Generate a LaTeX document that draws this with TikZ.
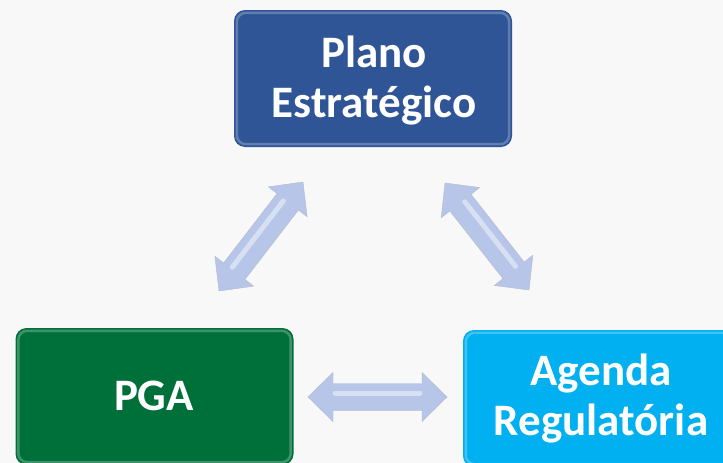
\documentclass[tikz,border=0pt]{standalone}
\usepackage{fontspec}
\setmainfont{Carlito}
\usetikzlibrary{calc}
\definecolor{bgc}{RGB}{248,248,248}
\definecolor{boxblue}{RGB}{47,85,151}
\definecolor{boxgreen}{RGB}{0,112,58}
\definecolor{boxcyan}{RGB}{0,176,240}
\definecolor{arrowc}{RGB}{183,197,232}
\tikzset{
  box/.style={rounded corners=11pt, minimum width=278pt, minimum height=137pt, inner sep=0pt},
  boxtext/.style={anchor=base, inner sep=0pt, align=center, text=white,
    font=\fontsize{45}{50}\selectfont\bfseries},
  bevel/.style={rounded corners=9pt, line width=2.5pt, draw=#1, opacity=0.45},
  arrowbody/.style={fill=arrowc, draw=arrowc!80!black!70!white, line width=0.4pt, line join=miter},
  arrowshine/.style={line width=5pt, white, opacity=0.45, line cap=round}
}
\newcommand\dblarr[2]{%
  \path[arrowbody] (#1)
    -- ($($(#1)!25pt!(#2)$)!24.5pt!90:(#2)$)
    -- ($($(#1)!25pt!(#2)$)!13.5pt!90:(#2)$)
    -- ($($(#2)!25pt!(#1)$)!13.5pt!-90:(#1)$)
    -- ($($(#2)!25pt!(#1)$)!24.5pt!-90:(#1)$)
    -- (#2)
    -- ($($(#2)!25pt!(#1)$)!24.5pt!90:(#1)$)
    -- ($($(#2)!25pt!(#1)$)!13.5pt!90:(#1)$)
    -- ($($(#1)!25pt!(#2)$)!13.5pt!-90:(#2)$)
    -- ($($(#1)!25pt!(#2)$)!24.5pt!-90:(#2)$)
    -- cycle;
  \draw[arrowshine] ($($(#1)!27pt!(#2)$)!4pt!90:(#2)$) -- ($($(#2)!27pt!(#1)$)!4pt!-90:(#1)$);
}
\begin{document}
\begin{tikzpicture}[x=1pt,y=-1pt]
  \fill[bgc] (0,0) rectangle (723,463);
  \useasboundingbox (0,0) rectangle (723,463);

  \node[box, fill=boxblue] (plano) at (373,78.5) {};
  \node[box, fill=boxgreen] (pga) at (154.5,396.5) {};
  \node[box, fill=boxcyan] (agenda) at (602,398.5) {};

  \foreach \n/\c in {plano/boxblue, pga/boxgreen, agenda/boxcyan}{
    \draw[bevel=\c!45!white] ($(\n.north west)+(3,3)$) rectangle ($(\n.south east)+(-3,-3)$);
  }

  \node[boxtext] (planoT) at (374,117) {Plano\\Estratégico};
  \node[boxtext] (pgaT) at (154,410) {PGA};
  \node[boxtext] (agendaT) at (601,435) {Agenda\\Regulatória};

  \coordinate (lA) at (219,291);
  \coordinate (lB) at (303,182);
  \coordinate (rA) at (445,183);
  \coordinate (rB) at (529,290);
  \coordinate (hA) at (308,397);
  \coordinate (hB) at (447,397);

  \dblarr{lA}{lB}
  \dblarr{rA}{rB}
  \dblarr{hA}{hB}
\end{tikzpicture}
\end{document}
